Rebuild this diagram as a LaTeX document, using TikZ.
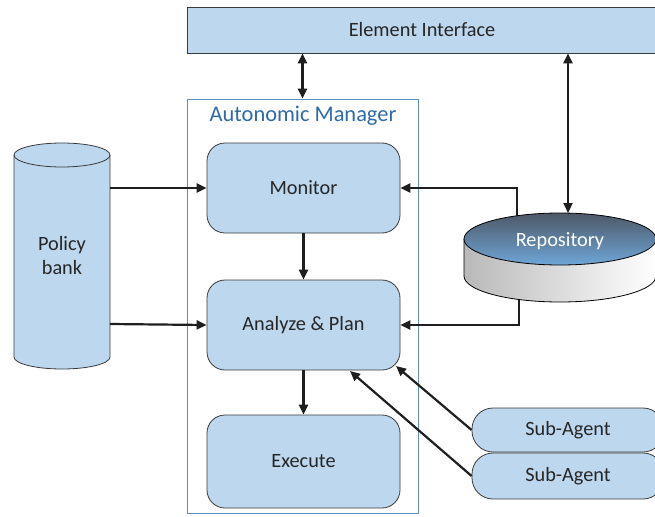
\documentclass[tikz,border=0pt]{standalone}
\usepackage{fontspec}
\setmainfont{Carlito}
\usetikzlibrary{arrows.meta}
\definecolor{boxfill}{HTML}{BDD7EE}
\definecolor{edge}{HTML}{3A3A3A}
\definecolor{ink}{HTML}{262626}
\definecolor{amblue}{HTML}{5B8FC7}
\definecolor{amtext}{HTML}{2E6AA6}
\definecolor{repotop}{HTML}{4E5866}
\definecolor{repobot}{HTML}{6FA6D8}
\begin{document}
\begin{tikzpicture}[x=1pt,y=-1pt,
  lbl/.style={font=\fontsize{20.3}{24}\selectfont, text=ink},
  block/.style={draw=edge, fill=boxfill, rounded corners=18pt, line width=0.8pt, lbl},
  agent/.style={draw=edge, fill=boxfill, rounded corners=21pt, line width=0.8pt, lbl},
  arr/.style={-{Triangle[length=10pt,width=9pt]}, line width=2.2pt, draw=black!88},
  biarr/.style={{Triangle[length=10pt,width=9pt]}-{Triangle[length=10pt,width=9pt]}, line width=2.2pt, draw=black!88}]
\useasboundingbox (0,0) rectangle (655,516);

% top interface bar
\node[draw=edge, fill=boxfill, line width=0.8pt, lbl, minimum width=470pt, minimum height=46pt, inner sep=0pt] (ei) at (422,30) {Element Interface};

% manager frame and its inner stages
\node[draw=amblue, line width=0.8pt, minimum width=231pt, minimum height=414pt, inner sep=0pt] (am) at (302.5,306) {};
\node[font=\fontsize{22.4}{26}\selectfont, text=amtext] (amtitle) at (303,116) {Autonomic Manager};
\node[block, minimum width=193pt, minimum height=90pt, inner sep=0pt] (mon) at (303.5,188) {Monitor};
\node[block, minimum width=193pt, minimum height=90pt, inner sep=0pt] (ap) at (303.5,325) {Analyze \& Plan};
\node[block, minimum width=193pt, minimum height=93pt, inner sep=0pt] (ex) at (303.5,461.5) {Execute};

% policy store (upright cylinder)
\fill[boxfill] (14,155) -- (14,357) arc[start angle=180,end angle=360,x radius=48pt,y radius=12pt]
  -- (110,155) arc[start angle=0,end angle=180,x radius=48pt,y radius=12pt] -- cycle;
\draw[edge, line width=0.8pt] (14,155) -- (14,357) arc[start angle=180,end angle=360,x radius=48pt,y radius=12pt] -- (110,155);
\draw[edge, line width=0.8pt] (62,155) ellipse[x radius=48pt,y radius=12pt];
\node[lbl, align=center] (pb) at (62,256) {Policy\\bank};
\coordinate (pb1) at (110,188);
\coordinate (pb2) at (110,324);

% sub-agents
\node[agent, minimum width=192pt, minimum height=44pt, inner sep=0pt] (sa1) at (568,430) {Sub-Agent};
\node[agent, minimum width=192pt, minimum height=46pt, inner sep=0pt] (sa2) at (568,476) {Sub-Agent};

% anchor points on the repository and on the plan box
\coordinate (rtop) at (517,225);
\coordinate (rbot) at (519,290);
\coordinate (rin) at (568,213);
\coordinate (aptip1) at (396,366);
\coordinate (aptip2) at (350,371);

% repository feedback lines (drawn under the disk)
\draw[arr] (rtop) |- (mon.east);
\draw[arr] (rbot) |- (ap.east);

% repository disk
\shade[left color=gray!55, right color=white] (464,239) -- (464,276)
  arc[start angle=180,end angle=360,x radius=96pt,y radius=26pt] -- (656,239) -- cycle;
\draw[black, line width=0.8pt] (464,239) -- (464,276)
  arc[start angle=180,end angle=360,x radius=96pt,y radius=26pt] -- (656,239);
\shade[top color=repotop, bottom color=repobot, draw=black, line width=0.8pt] (560,239) ellipse[x radius=96pt,y radius=26pt];
\node[font=\fontsize{20.3}{24}\selectfont, text=white] (repo) at (560,241) {Repository};

% connectors
\draw[biarr] (am.north) -- (am.north |- ei.south);
\draw[biarr] (rin |- ei.south) -- (rin);
\draw[arr] (pb1) -- (mon.west);
\draw[arr] (pb2) -- (ap.west);
\draw[arr] (mon.south) -- (ap.north);
\draw[arr] (ap.south) -- (ex.north);
\draw[arr] (sa1.west) -- (aptip1);
\draw[arr] (sa2.west) -- (aptip2);
\end{tikzpicture}
\end{document}
